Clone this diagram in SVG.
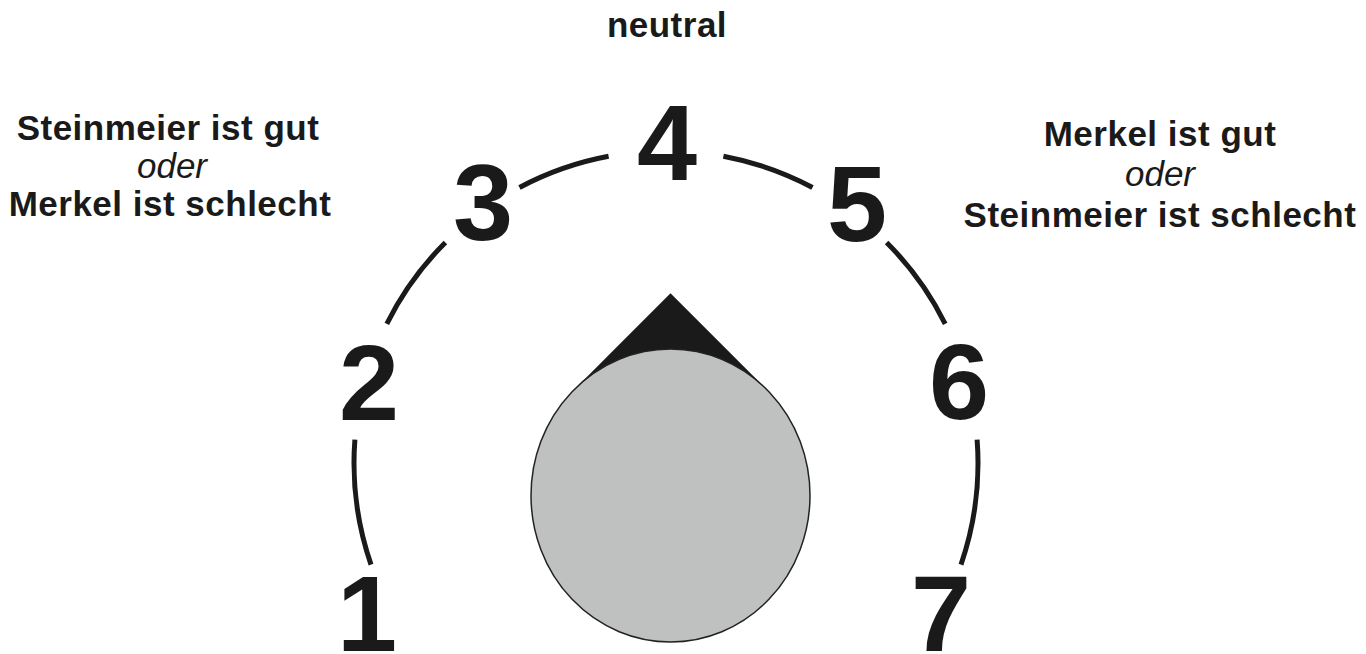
<svg xmlns="http://www.w3.org/2000/svg" width="1366" height="654" viewBox="0 0 1366 654">
  <style>
    .lbl { font-family: "Liberation Sans", Arial, sans-serif; font-size: 35px; font-weight: bold; fill: #1a1a1a; text-anchor: middle; letter-spacing: 0.5px; }
    .it { font-family: "Liberation Sans", Arial, sans-serif; font-size: 35px; font-style: italic; fill: #1a1a1a; text-anchor: middle; }
    .num { font-family: "Liberation Sans", Arial, sans-serif; font-size: 108px; font-weight: bold; fill: #1a1a1a; text-anchor: middle; }
    .arc { fill: none; stroke: #1a1a1a; stroke-width: 5; }
  </style>
  <rect width="1366" height="654" fill="#ffffff"/>
  <g id="labels">
    <text class="lbl" x="667" y="37">neutral</text>
    <text class="lbl" x="168" y="140">Steinmeier ist gut</text>
    <text class="it" x="172" y="178">oder</text>
    <text class="lbl" x="170" y="216">Merkel ist schlecht</text>
    <text class="lbl" x="1160" y="146">Merkel ist gut</text>
    <text class="it" x="1160" y="186">oder</text>
    <text class="lbl" x="1160" y="227">Steinmeier ist schlecht</text>
  </g>
  <g id="scale-connectors">
    <path class="arc" d="M 371 564.6 A 312 312 0 0 1 354.9 439.6"/>
    <path class="arc" d="M 386.8 323.8 A 312 312 0 0 1 445.4 242.4"/>
    <path class="arc" d="M 519.5 187.5 A 312 312 0 0 1 608.6 156.3"/>
    <path class="arc" d="M 723.4 156.3 A 312 312 0 0 1 812.5 187.5"/>
    <path class="arc" d="M 886.6 242.4 A 312 312 0 0 1 945.2 323.8"/>
    <path class="arc" d="M 977.1 439.6 A 312 312 0 0 1 961 564.6"/>
  </g>
  <g id="numbers">
    <text class="num" x="367" y="651">1</text>
    <text class="num" x="369" y="420">2</text>
    <text class="num" x="483" y="240">3</text>
    <text class="num" x="667" y="180">4</text>
    <text class="num" x="857" y="241">5</text>
    <text class="num" x="959" y="419">6</text>
    <text class="num" x="941" y="651">7</text>
  </g>
  <g id="knob">
    <polygon points="670.5,293.2 574.3,389.4 766.7,389.4" fill="#1a1a1a"/>
    <ellipse cx="670.5" cy="495.5" rx="139.5" ry="146.5" fill="#bfc1c0" stroke="#222222" stroke-width="1.5"/>
  </g>
</svg>
